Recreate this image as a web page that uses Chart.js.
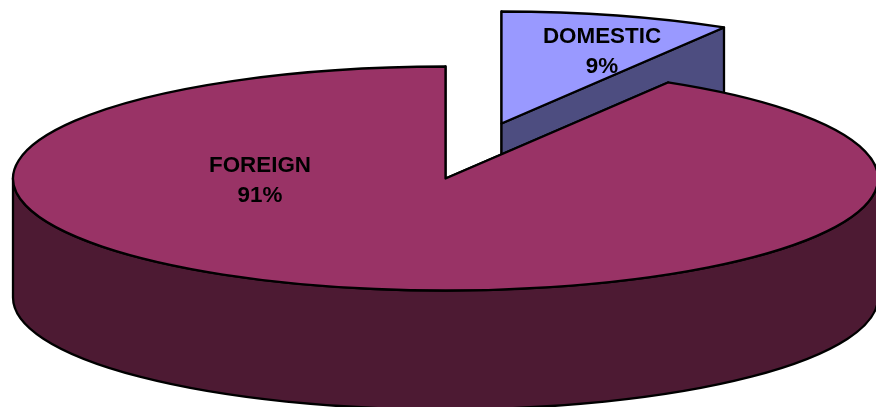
<!DOCTYPE html>
<html>
<head>
<meta charset="utf-8">
<style>
  html, body { margin: 0; padding: 0; background: #fff; }
  canvas { display: block; }
</style>
<script src="https://cdn.jsdelivr.net/npm/chart.js@4/dist/chart.umd.min.js"></script>
</head>
<body>
<canvas id="myChart" width="876" height="407"></canvas>
<script>
// Shipment share
var categories = ['DOMESTIC', 'FOREIGN'];
var shares = [8.6, 91.4];
var topColors = ['#9999ff', '#993366'];
var sideColors = ['#4d4d80', '#4d1a33'];

// Tilted pie: ellipse size, wall height, and where each slice / label sits
var pie3d = {
    cx: 445.5, cy: 178.5, rx: 432.5, ry: 112, depth: 119,
    shift: [[56, -55], [0, 0]],
    labelPos: [[602, 43], [260, 172]],
    lineGap: 30
};

function drawWalls(ctx, arc, i) {
    var x = pie3d.cx + pie3d.shift[i][0];
    var y = pie3d.cy + pie3d.shift[i][1];
    var d = pie3d.depth;

    // flat cut faces
    [arc.startAngle, arc.endAngle].forEach(function (a) {
        var ex = x + pie3d.rx * Math.cos(a);
        var ey = y + pie3d.ry * Math.sin(a);
        ctx.beginPath();
        ctx.moveTo(x, y);
        ctx.lineTo(ex, ey);
        ctx.lineTo(ex, ey + d);
        ctx.lineTo(x, y + d);
        ctx.closePath();
        ctx.fill();
        ctx.stroke();
    });

    // outer rim, only the part facing the viewer
    var from = Math.max(arc.startAngle, 0);
    var to = Math.min(arc.endAngle, Math.PI);
    if (to > from) {
        ctx.beginPath();
        ctx.ellipse(x, y, pie3d.rx, pie3d.ry, 0, from, to, false);
        ctx.ellipse(x, y + d, pie3d.rx, pie3d.ry, 0, to, from, true);
        ctx.closePath();
        ctx.fill();
        ctx.stroke();
    }
}

function drawTop(ctx, arc, i) {
    var x = pie3d.cx + pie3d.shift[i][0];
    var y = pie3d.cy + pie3d.shift[i][1];

    // let the library fill the slice, squashed onto the ellipse
    ctx.save();
    ctx.translate(x, y);
    ctx.scale(pie3d.rx / arc.outerRadius, pie3d.ry / arc.outerRadius);
    ctx.translate(-arc.x, -arc.y);
    arc.draw(ctx);
    ctx.restore();

    ctx.beginPath();
    ctx.moveTo(x, y);
    ctx.ellipse(x, y, pie3d.rx, pie3d.ry, 0, arc.startAngle, arc.endAngle, false);
    ctx.closePath();
    ctx.stroke();
}

var tiltedPie = {
    id: 'tiltedPie',
    beforeDatasetsDraw: function (chart) {
        var ctx = chart.ctx;
        var arcs = chart.getDatasetMeta(0).data;

        ctx.save();
        ctx.lineWidth = 2.3;
        ctx.lineJoin = 'round';
        ctx.strokeStyle = '#000';
        arcs.forEach(function (arc, i) {
            ctx.fillStyle = sideColors[i];
            drawWalls(ctx, arc, i);
            drawTop(ctx, arc, i);
        });

        // labels
        ctx.fillStyle = '#000';
        ctx.font = 'bold 22.4px "Liberation Sans", Arial, sans-serif';
        ctx.textAlign = 'center';
        ctx.textBaseline = 'alphabetic';
        categories.forEach(function (name, i) {
            var p = pie3d.labelPos[i];
            ctx.fillText(name, p[0], p[1]);
            ctx.fillText(Math.round(shares[i]) + '%', p[0], p[1] + pie3d.lineGap);
        });
        ctx.restore();
        return false;
    }
};

var chart = new Chart(document.getElementById('myChart').getContext('2d'), {
    type: 'pie',
    data: {
        labels: categories,
        datasets: [{
            data: shares,
            backgroundColor: topColors,
            borderWidth: 0
        }]
    },
    options: {
        responsive: false,
        animation: false,
        events: [],
        plugins: {
            legend: { display: false },
            tooltip: { enabled: false }
        }
    },
    plugins: [tiltedPie]
});
</script>
</body>
</html>
